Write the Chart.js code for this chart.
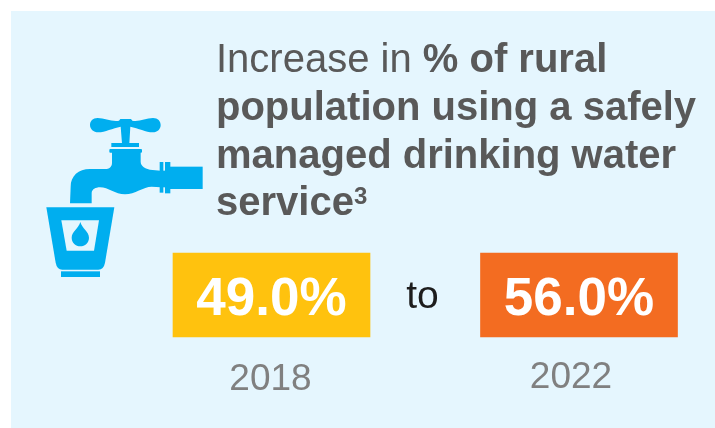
<!DOCTYPE html>
<html>
<head>
<meta charset="utf-8">
<title>Rural drinking water</title>
<script src="https://cdn.jsdelivr.net/npm/chart.js@4/dist/chart.umd.min.js"></script>
<style>
  html, body { margin: 0; background: #fff; }
  #panel { position: absolute; left: 11px; top: 11px; right: 0; bottom: 0; background: #e5f6fe; }
  #wrap { position: absolute; left: 0; top: 0; width: 715px; height: 428px; overflow: hidden; }
  canvas { position: absolute; left: 0; top: 0; }
</style>
</head>
<body>
<div id="wrap">
  <div id="panel"></div>
  <canvas id="chart" width="715" height="428"></canvas>
</div>
<script>
const years = ["2018", "2022"];
const values = [49.0, 56.0];
const tileColors = ["#ffc20e", "#f36c21"];

// heading runs per line: [text, bold]
const headingLines = [
  [["Increase in ", false], ["% of rural", true]],
  [["population using a safely", true]],
  [["managed drinking water", true]],
  [["service", true]],
];

const FONT = '"Liberation Sans", Arial, sans-serif';
const ICON = "#00aeef";
const PANEL = "#e5f6fe";

function drawHeading(ctx) {
  const baselines = [72, 120, 168, 215];
  ctx.fillStyle = "#595959";
  ctx.textAlign = "left";
  ctx.textBaseline = "alphabetic";
  headingLines.forEach((runs, i) => {
    let x = 216;
    runs.forEach(([text, bold]) => {
      ctx.font = `${bold ? "bold " : ""}40px ${FONT}`;
      ctx.fillText(text, x, baselines[i]);
      x += ctx.measureText(text).width;
    });
    if (i === 3) {
      ctx.font = `bold 24px ${FONT}`;
      ctx.fillText("3", x, 204);
    }
  });
}

// tap and glass, laid out on a 3x grid
function drawTap(ctx) {
  ctx.save();
  ctx.translate(30, 100);
  ctx.scale(1 / 3, 1 / 3);
  ctx.fillStyle = ICON;

  // handle
  ctx.beginPath();
  ctx.moveTo(267, 62);
  ctx.bezierCurveTo(245, 66, 225, 54, 203, 54);
  ctx.bezierCurveTo(188, 54, 180, 64, 180, 75);
  ctx.bezierCurveTo(180, 87, 190, 97, 205, 97);
  ctx.bezierCurveTo(225, 97, 248, 84, 272, 80);
  ctx.lineTo(276, 130);
  ctx.lineTo(298, 130);
  ctx.lineTo(301, 80);
  ctx.bezierCurveTo(325, 84, 348, 97, 368, 97);
  ctx.bezierCurveTo(383, 97, 392, 87, 392, 75);
  ctx.bezierCurveTo(392, 64, 384, 54, 369, 54);
  ctx.bezierCurveTo(347, 54, 328, 66, 307, 62);
  ctx.lineTo(303, 57);
  ctx.lineTo(271, 57);
  ctx.closePath();
  ctx.fill();

  ctx.fillRect(244, 129, 83, 12);
  ctx.beginPath();
  ctx.roundRect(238, 147, 98, 11, 3);
  ctx.fill();

  // body and spout
  ctx.beginPath();
  ctx.moveTo(246, 155);
  ctx.lineTo(246, 188);
  ctx.bezierCurveTo(246, 200, 238, 207, 225, 207);
  ctx.lineTo(180, 207);
  ctx.bezierCurveTo(145, 207, 122, 228, 122, 260);
  ctx.lineTo(120, 310);
  ctx.lineTo(185, 310);
  ctx.lineTo(185, 280);
  ctx.bezierCurveTo(185, 268, 197, 262, 210, 262);
  ctx.bezierCurveTo(235, 262, 255, 283, 285, 283);
  ctx.bezierCurveTo(315, 283, 340, 260, 365, 260);
  ctx.lineTo(392, 262);
  ctx.lineTo(392, 212);
  ctx.lineTo(368, 210);
  ctx.bezierCurveTo(345, 208, 332, 198, 332, 185);
  ctx.lineTo(332, 155);
  ctx.closePath();
  ctx.fill();

  // union and inlet pipe
  ctx.fillRect(389, 186, 11, 92);
  ctx.fillRect(405, 186, 16, 94);
  ctx.fillRect(398, 212, 10, 50);
  ctx.fillRect(420, 200, 98, 67);

  // glass
  ctx.beginPath();
  ctx.moveTo(49, 322);
  ctx.lineTo(253, 322);
  ctx.lineTo(225, 488);
  ctx.quadraticCurveTo(221, 509, 205, 509);
  ctx.lineTo(97, 509);
  ctx.quadraticCurveTo(81, 509, 77, 488);
  ctx.closePath();
  ctx.fill();
  ctx.fillRect(93, 514, 117, 17);

  ctx.fillStyle = PANEL;
  ctx.beginPath();
  ctx.moveTo(94, 361);
  ctx.lineTo(207, 361);
  ctx.lineTo(192, 452);
  ctx.lineTo(110, 452);
  ctx.closePath();
  ctx.fill();

  // drop
  ctx.fillStyle = ICON;
  ctx.beginPath();
  ctx.moveTo(151, 366);
  ctx.bezierCurveTo(156, 385, 177, 395, 177, 413);
  ctx.bezierCurveTo(177, 428, 165, 439, 151, 439);
  ctx.bezierCurveTo(137, 439, 125, 428, 125, 413);
  ctx.bezierCurveTo(125, 395, 146, 385, 151, 366);
  ctx.fill();
  ctx.restore();
}

const calloutPlugin = {
  id: "callout",
  afterLayout(chart) {
    // the year labels do not sit exactly under their tiles
    const items = chart.scales.x.getLabelItems();
    items[0].options.translation[0] -= 1;
    items[1].options.translation[0] -= 8;
    items[1].options.translation[1] -= 2;
  },
  afterDatasetsDraw(chart) {
    const ctx = chart.ctx;
    ctx.save();
    drawTap(ctx);
    drawHeading(ctx);

    ctx.fillStyle = "#fff";
    ctx.font = `bold 53px ${FONT}`;
    ctx.textAlign = "center";
    ctx.textBaseline = "alphabetic";
    values.forEach((v, i) => {
      const bar = chart.getDatasetMeta(i).data[i];
      ctx.fillText(v.toFixed(1) + "%", bar.x, 315);
    });

    ctx.fillStyle = "#1d1d1d";
    ctx.font = `39px ${FONT}`;
    ctx.fillText("to", 422.5, 308);
    ctx.restore();
  },
};

new Chart(document.getElementById("chart"), {
  type: "bar",
  plugins: [calloutPlugin],
  data: {
    labels: years,
    // each tile has its own y axis, so both fill the same height
    datasets: values.map((v, i) => ({
      label: years[i],
      data: years.map((_, j) => (j === i ? v : null)),
      backgroundColor: tileColors[i],
      yAxisID: "y" + i,
      barThickness: 197,
      grouped: false,
      clip: false,
    })),
  },
  options: {
    responsive: false,
    animation: false,
    events: [],
    layout: { padding: { left: 271.5, right: 136, top: 253, bottom: 0 } },
    plugins: { legend: { display: false }, tooltip: { enabled: false }, title: { display: false } },
    scales: {
      x: {
        offset: false,
        grid: { display: false },
        border: { display: false },
        afterFit: s => { s.height = 91; },
        ticks: {
          color: "#808080",
          font: { family: FONT, size: 37 },
          padding: 13,
          autoSkip: false,
          maxRotation: 0,
        },
      },
      y0: { display: false, min: 0, max: values[0] },
      y1: { display: false, min: 0, max: values[1] },
    },
  },
});
</script>
</body>
</html>
